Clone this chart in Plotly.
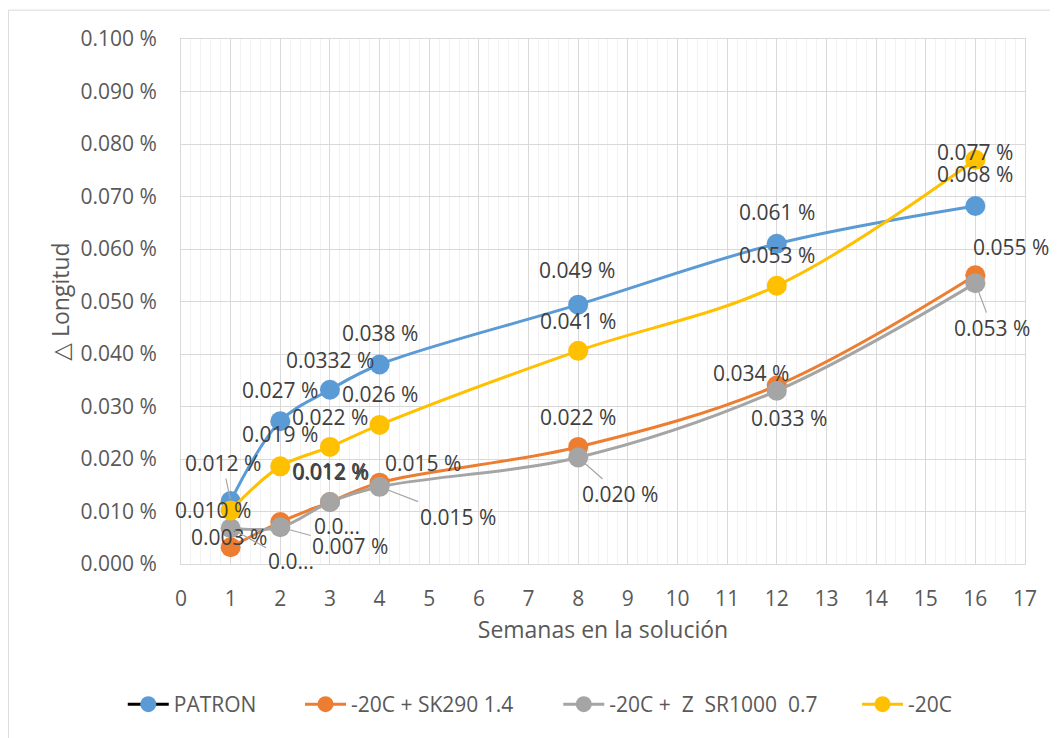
import plotly.graph_objects as go

# ---- data ----
weeks = [1, 2, 3, 4, 8, 12, 16]
patron = [0.0120, 0.0272, 0.0332, 0.0380, 0.0494, 0.0610, 0.0682]
sk290 = [0.0032, 0.0080, 0.0118, 0.0155, 0.0223, 0.0340, 0.0550]
sr1000 = [0.0068, 0.0070, 0.0118, 0.0147, 0.0203, 0.0330, 0.0535]
c20 = [0.0102, 0.0186, 0.0223, 0.0265, 0.0406, 0.0530, 0.0770]

patron_labels = ["0.012 %", "0.027 %", "0.0332 %", "0.038 %", "0.049 %", "0.061 %", "0.068 %"]
sk290_labels = ["0.003 %", "0.0...", "0.012 %", "0.015 %", "0.022 %", "0.034 %", "0.055 %"]
sr1000_labels = ["0.0...", "0.007 %", "0.012 %", "0.015 %", "0.020 %", "0.033 %", "0.053 %"]
c20_labels = ["0.010 %", "0.019 %", "0.022 %", "0.026 %", "0.041 %", "0.053 %", "0.077 %"]

series_names = ["PATRON", "-20C + SK290 1.4", "-20C +  Z  SR1000  0.7", "-20C"]
x_ticks = list(range(0, 18))

# ---- label placement (pixel offsets from point: dx, dy(down), leader line) ----
patron_off = [(-8, -38, True), (0, -31, False), (0, -30, False), (0, -32, False), (-1, -35, False), (0, -32, False), (0, -32, False)]
sk290_off = [(-2, -10, False), (57, 4, False), (0, -31, False), (43, -20, False), (0, -30, False), (-26, -13, False), (36, -28, False)]
sr1000_off = [(60, 33, True), (70, 19, True), (1, -30, False), (78, 30, True), (42, 37, True), (12, 27, False), (17, 45, True)]
c20_off = [(-18, 0, False), (0, -32, False), (0, -30, False), (0, -31, False), (0, -30, False), (0, -31, False), (0, -8, False)]

# legend placement (paper x of each legend box, one legend per series)
legend_x = [-0.069, 0.141, 0.447, 0.801]

colors = ["#5B9BD5", "#ED7D31", "#A5A5A5", "#FFC000"]
FONT = "Open Sans, Noto Sans, DejaVu Sans, sans-serif"
legend_ids = ["legend", "legend2", "legend3", "legend4"]

fig = go.Figure()
all_vals = [patron, sk290, sr1000, c20]
for i, (name, vals, col) in enumerate(zip(series_names, all_vals, colors)):
    fig.add_trace(go.Scatter(
        x=weeks, y=vals, mode="lines+markers", name=name,
        line=dict(color=col, width=3, shape="spline", smoothing=1.0),
        marker=dict(color=col, size=20),
        showlegend=(i != 0), legend=legend_ids[i],
        hoverinfo="skip",
    ))

# legend entry for PATRON (black line, blue marker as in the reference)
fig.add_trace(go.Scatter(
    x=[None], y=[None], mode="lines+markers", name=series_names[0],
    line=dict(color="#000000", width=3), marker=dict(color=colors[0], size=20),
    legend="legend",
))

annotations = []
for vals, labels, offs in [(patron, patron_labels, patron_off), (sk290, sk290_labels, sk290_off),
                           (sr1000, sr1000_labels, sr1000_off), (c20, c20_labels, c20_off)]:
    for xv, yv, t, (dx, dy, lead) in zip(weeks, vals, labels, offs):
        a = dict(x=xv, y=yv, xref="x", yref="y", text=t,
                 font=dict(family=FONT, size=21, color="#404040"))
        if lead:
            a.update(showarrow=True, ax=dx, ay=dy, arrowhead=0, arrowwidth=1.2,
                     arrowcolor="#A6A6A6", standoff=2, startstandoff=0)
        else:
            a.update(showarrow=False, xshift=dx, yshift=-dy)
        annotations.append(a)

leg_common = dict(orientation="h", y=-0.2676, yanchor="middle", xanchor="left",
                  font=dict(family=FONT, size=21, color="#595959"), itemwidth=41,
                  bgcolor="rgba(0,0,0,0)")

fig.update_layout(
    width=1050, height=730,
    margin=dict(l=173, r=33, t=31, b=174),
    paper_bgcolor="white", plot_bgcolor="white",
    font=dict(family=FONT, size=21, color="#595959"),
    annotations=annotations,
    showlegend=True,
    legend=dict(x=legend_x[0], **leg_common),
    legend2=dict(x=legend_x[1], **leg_common),
    legend3=dict(x=legend_x[2], **leg_common),
    legend4=dict(x=legend_x[3], **leg_common),
    shapes=[dict(type="rect", xref="paper", yref="paper", x0=-0.2045, x1=1.06, y0=-0.36, y1=1.055,
                 line=dict(color="#D9D9D9", width=1), fillcolor="rgba(0,0,0,0)", layer="below")],
)
fig.update_xaxes(
    range=[0, 17], tickmode="array", tickvals=x_ticks, ticktext=[str(v) for v in x_ticks],
    showgrid=True, gridcolor="#D9D9D9", gridwidth=1,
    minor=dict(dtick=0.2, showgrid=True, gridcolor="#F2F2F2", gridwidth=1),
    showline=True, linecolor="#D9D9D9", mirror=True, zeroline=False,
    ticks="", ticklabelstandoff=16,
    tickfont=dict(family=FONT, size=21, color="#595959"),
    title=dict(text="Semanas en la solución", standoff=10,
               font=dict(family=FONT, size=23, color="#595959")),
)
fig.update_yaxes(
    range=[0, 0.1], dtick=0.01, tickformat=".3f", ticksuffix=" %",
    showgrid=True, gridcolor="#D9D9D9", gridwidth=1,
    showline=True, linecolor="#D9D9D9", mirror=True, zeroline=False,
    ticks="", ticklabelstandoff=19,
    tickfont=dict(family=FONT, size=21, color="#595959"),
    title=dict(text="△ Longitud", standoff=4,
               font=dict(family=FONT, size=23, color="#595959")),
)

fig.write_html("out.html")
